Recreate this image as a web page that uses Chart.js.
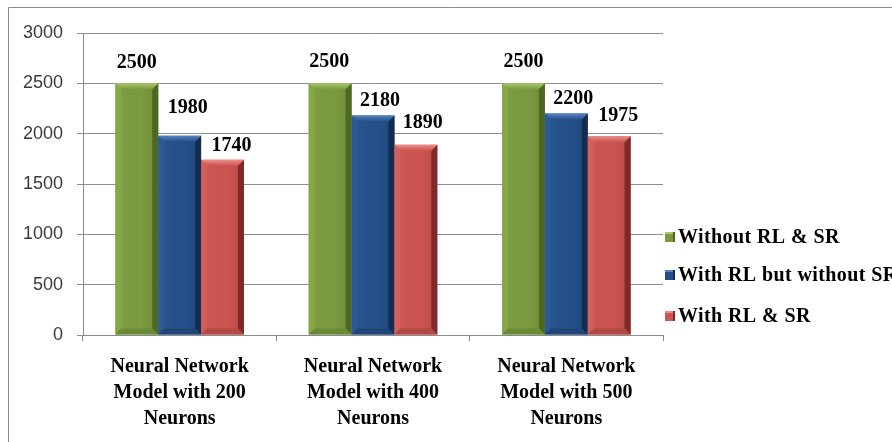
<!DOCTYPE html>
<html>
<head>
<meta charset="utf-8">
<script src="https://cdn.jsdelivr.net/npm/chart.js@4.4.1/dist/chart.umd.min.js"></script>
<style>
  html, body { margin: 0; padding: 0; background: #ffffff; }
  #wrap { width: 892px; height: 442px; }
</style>
</head>
<body>
<div id="wrap"><canvas id="c" width="892" height="442"></canvas></div>
<script>
// Category labels (one entry per line)
const categories = [
  ['Neural Network', 'Model with 200', 'Neurons'],
  ['Neural Network', 'Model with 400', 'Neurons'],
  ['Neural Network', 'Model with 500', 'Neurons']
];
const seriesNames = ['Without RL & SR', 'With RL but without SR', 'With RL & SR'];
const withoutRlSr = [2500, 2500, 2500];
const withRlNoSr = [1980, 2180, 2200];
const withRlSr = [1740, 1890, 1975];
const yTicks = [0, 500, 1000, 1500, 2000, 2500, 3000];

// Bar palette: face and bevel shades per series
const PALETTE = [
  { face: '#7b9b3f', top: '#a9c76a', left: '#86a748', right: '#4d6822', bottom: '#6a8a33' },
  { face: '#24508a', top: '#5584c2', left: '#2c5a96', right: '#132c50', bottom: '#1f4579' },
  { face: '#cc5450', top: '#ec8d89', left: '#d35e5a', right: '#7e2a28', bottom: '#b24744' }
];
// Value-label nudges [dx, dy] from the bar top centre, per series and category
const LABEL_NUDGE = [
  [[0, -21], [-1, -22], [0, -22]],
  [[8, -28], [7, -15], [7, -15]],
  [[9, -14], [7, -22], [9, -20]]
];

const SERIF = '"Liberation Serif", "Times New Roman", serif';
const SANS = '"Liberation Sans", Arial, sans-serif';

const frame = {
  id: 'frame',
  beforeDraw(chart) {
    const ctx = chart.ctx;
    ctx.save();
    ctx.fillStyle = '#ffffff';
    ctx.fillRect(0, 0, chart.width, chart.height);
    ctx.strokeStyle = '#8a8a8a';
    ctx.lineWidth = 1;
    ctx.beginPath();
    ctx.moveTo(8.5, chart.height + 2);
    ctx.lineTo(8.5, 7.5);
    ctx.lineTo(chart.width + 2, 7.5);
    ctx.stroke();
    ctx.restore();
  }
};

const bevel = {
  id: 'bevel',
  afterDatasetsDraw(chart) {
    const ctx = chart.ctx;
    const b = 6;
    chart.data.datasets.forEach((ds, di) => {
      const pal = PALETTE[di];
      chart.getDatasetMeta(di).data.forEach(el => {
        const p = el.getProps(['x', 'y', 'base', 'width'], true);
        const l = p.x - p.width / 2, r = p.x + p.width / 2;
        const t = p.y, bt = p.base;
        ctx.save();
        // face shading: slightly darker towards the right
        const g = ctx.createLinearGradient(l, 0, r, 0);
        g.addColorStop(0, 'rgba(255,255,255,0.05)');
        g.addColorStop(0.6, 'rgba(0,0,0,0)');
        g.addColorStop(1, 'rgba(0,0,0,0.10)');
        ctx.fillStyle = g;
        ctx.fillRect(l, t, r - l, bt - t);
        const poly = (pts, col) => {
          ctx.fillStyle = col;
          ctx.beginPath();
          ctx.moveTo(pts[0][0], pts[0][1]);
          for (let i = 1; i < pts.length; i++) ctx.lineTo(pts[i][0], pts[i][1]);
          ctx.closePath();
          ctx.fill();
        };
        poly([[l, t], [l + b, t + b], [l + b, bt - b], [l, bt]], pal.left);
        poly([[r, t], [r - b, t + b], [r - b, bt - b], [r, bt]], pal.right);
        poly([[l, bt], [l + b, bt - b], [r - b, bt - b], [r, bt]], pal.bottom);
        const tg = ctx.createLinearGradient(0, t, 0, t + b);
        tg.addColorStop(0, pal.top);
        tg.addColorStop(1, pal.face);
        poly([[l, t], [r, t], [r - b, t + b], [l + b, t + b]], tg);
        ctx.restore();
      });
    });
  }
};

const valueLabels = {
  id: 'valueLabels',
  afterDatasetsDraw(chart) {
    const ctx = chart.ctx;
    ctx.save();
    ctx.font = 'bold 20px ' + SERIF;
    ctx.fillStyle = '#000000';
    ctx.textAlign = 'center';
    ctx.textBaseline = 'middle';
    chart.data.datasets.forEach((ds, di) => {
      chart.getDatasetMeta(di).data.forEach((el, i) => {
        const n = LABEL_NUDGE[di][i];
        ctx.fillText(String(ds.data[i]), el.x + n[0], el.y + n[1]);
      });
    });
    ctx.restore();
  }
};

const sideLegend = {
  id: 'sideLegend',
  afterDraw(chart) {
    const ctx = chart.ctx;
    const rows = [237, 275, 316];
    ctx.save();
    ctx.font = 'bold 20px ' + SERIF;
    ctx.letterSpacing = '0.4px';
    ctx.textBaseline = 'middle';
    ctx.textAlign = 'left';
    chart.data.datasets.forEach((ds, di) => {
      const pal = PALETTE[di];
      const y = rows[di];
      const x = 665, s = 10;
      ctx.fillStyle = pal.face;
      ctx.fillRect(x, y - s / 2, s, s);
      ctx.fillStyle = pal.top;
      ctx.fillRect(x, y - s / 2, s, 2);
      ctx.fillStyle = pal.right;
      ctx.fillRect(x + s - 2, y - s / 2, 2, s);
      ctx.fillStyle = '#000000';
      ctx.fillText(ds.label, x + s + 3, y + 1);
    });
    ctx.restore();
  }
};

const seriesData = [withoutRlSr, withRlNoSr, withRlSr];

new Chart(document.getElementById('c'), {
  type: 'bar',
  data: {
    labels: categories,
    datasets: seriesData.map((d, i) => ({
      label: seriesNames[i],
      data: d,
      backgroundColor: PALETTE[i].face,
      borderWidth: 0,
      barPercentage: 1,
      categoryPercentage: 0.665
    }))
  },
  options: {
    responsive: false,
    animation: false,
    devicePixelRatio: 1,
    layout: { padding: { left: 0, top: 33, right: 229, bottom: 0 } },
    plugins: {
      legend: { display: false },
      tooltip: { enabled: false }
    },
    scales: {
      x: {
        grid: {
          display: true,
          offset: true,
          drawOnChartArea: false,
          drawTicks: true,
          tickLength: 6,
          color: '#8a8a8a'
        },
        border: { display: true, color: '#8a8a8a', width: 1 },
        ticks: {
          color: '#000000',
          font: { family: SERIF, size: 20, weight: 'bold', lineHeight: 1.3 },
          padding: 13,
          maxRotation: 0,
          autoSkip: false
        },
        afterFit(s) { s.height = 107; }
      },
      y: {
        min: 0,
        max: 3000,
        afterBuildTicks(s) { s.ticks = yTicks.map(v => ({ value: v })); },
        grid: {
          color: '#8f8f8f',
          lineWidth: 1,
          drawTicks: true,
          tickLength: 6
        },
        border: { display: true, color: '#8a8a8a', width: 1 },
        ticks: {
          color: '#3a3a3a',
          font: { family: SANS, size: 18 },
          padding: 14,
          callback: v => String(v)
        },
        afterFit(s) { s.width = 83; }
      }
    }
  },
  plugins: [frame, bevel, valueLabels, sideLegend]
});
</script>
</body>
</html>
